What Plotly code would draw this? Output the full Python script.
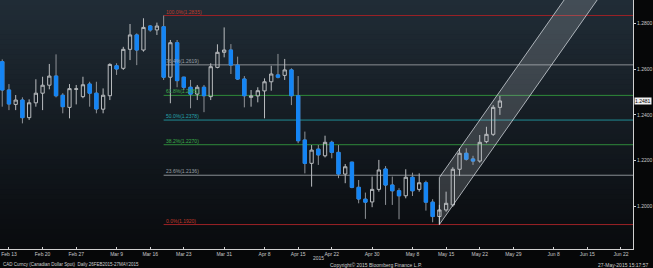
import plotly.graph_objects as go
import pandas as pd
import numpy as np

# ---------------- data ----------------
first_day = "2015-02-12"
last_day = "2015-05-27"
dates = pd.bdate_range(first_day, last_day)

open_ = [1.2633,1.2509,1.2446,1.2465,1.2388,1.2453,1.2495,1.2530,1.2570,1.2486,
         1.2433,1.2512,1.2480,1.2535,1.2495,1.2425,1.2484,1.2615,1.2604,1.2687,
         1.2750,1.2684,1.2789,1.2772,1.2786,1.2565,1.2716,1.2565,1.2521,1.2491,
         1.2521,1.2480,1.2608,1.2674,1.2684,1.2618,1.2557,1.2477,1.2483,1.2505,
         1.2545,1.2575,1.2573,1.2597,1.2484,1.2290,1.2188,1.2250,1.2221,1.2280,
         1.2236,1.2141,1.2193,1.2083,1.2031,1.2019,1.2074,1.2163,1.2093,1.2068,
         1.2046,1.2127,1.2074,1.2103,1.2018,1.1955,1.1984,1.2006,1.2162,1.2232,
         1.2207,1.2198,1.2283,1.2315,1.2433]
close = [1.2509,1.2448,1.2465,1.2388,1.2453,1.2495,1.2530,1.2570,1.2484,1.2436,
         1.2515,1.2514,1.2532,1.2495,1.2426,1.2486,1.2621,1.2601,1.2687,1.2750,
         1.2684,1.2783,1.2772,1.2789,1.2565,1.2716,1.2550,1.2521,1.2491,1.2521,
         1.2484,1.2611,1.2674,1.2684,1.2618,1.2557,1.2484,1.2483,1.2506,1.2545,
         1.2579,1.2565,1.2597,1.2484,1.2287,1.2188,1.2246,1.2225,1.2280,1.2236,
         1.2141,1.2173,1.2083,1.2032,1.2018,1.2074,1.2159,1.2093,1.2068,1.2046,
         1.2127,1.2068,1.2103,1.2018,1.1955,1.1984,1.2013,1.2162,1.2232,1.2206,
         1.2198,1.2280,1.2315,1.2433,1.2461]
high = [1.2643,1.2535,1.2487,1.2477,1.2468,1.2556,1.2567,1.2623,1.2665,1.2495,
        1.2535,1.2531,1.2567,1.2545,1.2545,1.2516,1.2626,1.2626,1.2698,1.2798,
        1.2757,1.2823,1.2793,1.2804,1.2835,1.2728,1.2728,1.2567,1.2553,1.2531,
        1.2531,1.2626,1.2709,1.2783,1.2710,1.2655,1.2570,1.2509,1.2521,1.2560,
        1.2615,1.2667,1.2645,1.2604,1.2570,1.2327,1.2268,1.2268,1.2309,1.2287,
        1.2268,1.2185,1.2195,1.2115,1.2060,1.2130,1.2203,1.2176,1.2130,1.2079,
        1.2162,1.2147,1.2144,1.2112,1.2031,1.2006,1.2064,1.2171,1.2254,1.2254,
        1.2221,1.2312,1.2348,1.2443,1.2483]
low = [1.2436,1.2421,1.2421,1.2363,1.2378,1.2436,1.2421,1.2512,1.2477,1.2407,
       1.2385,1.2446,1.2473,1.2436,1.2407,1.2407,1.2465,1.2575,1.2597,1.2640,
       1.2618,1.2677,1.2764,1.2750,1.2553,1.2451,1.2521,1.2509,1.2429,1.2465,
       1.2412,1.2465,1.2604,1.2652,1.2579,1.2553,1.2433,1.2436,1.2455,1.2385,
       1.2506,1.2560,1.2553,1.2443,1.2276,1.2144,1.2086,1.2181,1.2214,1.2210,
       1.2123,1.2101,1.2079,1.2013,1.1945,1.1996,1.2064,1.2006,1.2006,1.1943,
       1.2035,1.2045,1.2064,1.1981,1.1930,1.1920,1.1976,1.1998,1.2133,1.2200,
       1.2181,1.2191,1.2276,1.2308,1.2400]

# Fibonacci retracement (from Mar 18 high to May 14 low)
fib_start = "2015-03-18"
fib_high = 1.2835
fib_low = 1.1920
fib_ratios = [1.0, 0.764, 0.618, 0.5, 0.382, 0.236, 0.0]
fib_colors = ["#9b2226", "#8a8f94", "#2f8a3a", "#1f8c95", "#2f8a3a", "#8a8f94", "#9b2226"]
fib_text_colors = ["#c0392b", "#9aa0a6", "#3cae4a", "#25a3ad", "#3cae4a", "#9aa0a6", "#c0392b"]

# Trend channel
channel_start = "2015-05-14"
channel_end = "2015-06-17"
channel_low = 1.1920
channel_width = 0.0206
channel_slope = 0.00419  # per trading day

# Axis
x_range = ["2015-02-11 16:00", "2015-06-23 19:00"]
y_range = [1.1813, 1.2903]
x_tick_dates = ["2015-02-13", "2015-02-20", "2015-02-27", "2015-03-09", "2015-03-16",
                "2015-03-23", "2015-03-31", "2015-04-08", "2015-04-15", "2015-04-22",
                "2015-04-30", "2015-05-08", "2015-05-15", "2015-05-22", "2015-05-29",
                "2015-06-08", "2015-06-15", "2015-06-22"]
x_tick_text = ["Feb 13", "Feb 20", "Feb 27", "Mar 9", "Mar 16", "Mar 23", "Mar 31",
               "Apr 8", "Apr 15", "Apr 22", "Apr 30", "May 8", "May 15", "May 22",
               "May 29", "Jun 8", "Jun 15", "Jun 22"]
y_tick_vals = [1.20, 1.22, 1.24, 1.26, 1.28]
y_tick_text = ["1.2000", "1.2200", "1.2400", "1.2600", "1.2800"]
last_price_label = "1.2481"

FONT = "Liberation Sans, Arial, sans-serif"

fig = go.Figure()

# channel
n_days = int(np.busday_count(channel_start, channel_end))
ch_x = [channel_start, channel_end, channel_end, channel_start, channel_start]
ch_y = [channel_low,
        channel_low + channel_slope * n_days,
        channel_low + channel_width + channel_slope * n_days,
        channel_low + channel_width,
        channel_low]
fig.add_trace(go.Scatter(x=ch_x, y=ch_y, mode="lines", fill="toself",
                         fillcolor="rgba(190,195,200,0.22)",
                         line=dict(color="rgba(215,220,225,0.75)", width=1),
                         hoverinfo="skip", showlegend=False))

# all candles: gray wicks / hollow outlines
fig.add_trace(go.Candlestick(
    x=dates, open=open_, high=high, low=low, close=close,
    increasing=dict(line=dict(color="#b9bcbf", width=1), fillcolor="rgba(0,0,0,0)"),
    decreasing=dict(line=dict(color="#8f9398", width=1), fillcolor="rgba(0,0,0,0)"),
    whiskerwidth=0, showlegend=False, hoverinfo="skip"))

# blue bodies for down days
dn = [i for i in range(len(dates)) if close[i] < open_[i]]
fig.add_trace(go.Candlestick(
    x=[dates[i] for i in dn],
    open=[open_[i] for i in dn], close=[close[i] for i in dn],
    high=[open_[i] for i in dn], low=[close[i] for i in dn],
    increasing=dict(line=dict(color="#1485f5", width=1), fillcolor="#1485f5"),
    decreasing=dict(line=dict(color="#1485f5", width=1), fillcolor="#1485f5"),
    whiskerwidth=0, showlegend=False, hoverinfo="skip"))

shapes = []
# background gradient
top_rgb = np.array([33, 45, 55])
bot_rgb = np.array([9, 11, 14])
n_strips = 50
for k in range(n_strips):
    t = k / n_strips
    c = (bot_rgb + (top_rgb - bot_rgb) * (t + 0.5 / n_strips)).astype(int)
    shapes.append(dict(type="rect", xref="paper", yref="paper",
                       x0=0, x1=1, y0=t, y1=t + 1.0 / n_strips + 0.002,
                       line=dict(width=0), fillcolor="rgb(%d,%d,%d)" % tuple(c),
                       layer="below"))

annotations = []
for r, lc, tc in zip(fib_ratios, fib_colors, fib_text_colors):
    lvl = fib_low + r * (fib_high - fib_low)
    shapes.append(dict(type="line", xref="x", yref="y", x0=fib_start, x1=x_range[1],
                       y0=lvl, y1=lvl, line=dict(color=lc, width=1), layer="below"))
    annotations.append(dict(x=fib_start, y=lvl, xref="x", yref="y",
                            text="%.1f%%(%.4f)" % (r * 100, lvl), showarrow=False,
                            xanchor="left", yanchor="bottom", yshift=-1,
                            font=dict(family=FONT, size=5, color=tc)))

# last price box
annotations.append(dict(x=1, y=close[-1], xref="paper", yref="y", text=last_price_label,
                        showarrow=False, xanchor="left", yanchor="middle", xshift=1,
                        bgcolor="#f0f0f0", borderpad=0,
                        font=dict(family=FONT, size=5, color="#000000")))
# year label
annotations.append(dict(x="2015-04-20", y=-0.036, xref="x", yref="paper", text="2015",
                        showarrow=False, xanchor="center", yanchor="middle",
                        font=dict(family=FONT, size=5, color="#c8c8c8")))
# footer
annotations.append(dict(x=0.0, y=-0.064, xref="paper", yref="paper",
                        text="CAD Curncy (Canadian Dollar Spot)  Daily 26FEB2015-27MAY2015",
                        showarrow=False, xanchor="left", yanchor="middle", xshift=1,
                        font=dict(family=FONT, size=4.5, color="#d0d0d0")))
annotations.append(dict(x="2015-04-21 12:00", y=-0.064, xref="x", yref="paper",
                        text="Copyright\u00a9 2015 Bloomberg Finance L.P.",
                        showarrow=False, xanchor="left", yanchor="middle",
                        font=dict(family=FONT, size=5, color="#d0d0d0")))
annotations.append(dict(x=1.0, y=-0.064, xref="paper", yref="paper",
                        text="27-May-2015 15:17:57",
                        showarrow=False, xanchor="right", yanchor="middle", xshift=18,
                        font=dict(family=FONT, size=5, color="#d0d0d0")))

fig.update_layout(
    width=653, height=268,
    margin=dict(l=0, r=18, t=0, b=19),
    paper_bgcolor="#060708", plot_bgcolor="#121820",
    showlegend=False, boxmode="overlay",
    shapes=shapes, annotations=annotations,
    font=dict(family=FONT, size=5, color="#c8c8c8"),
    xaxis=dict(type="date", range=x_range, rangeslider=dict(visible=False),
               rangebreaks=[dict(bounds=["sat", "mon"])],
               tickvals=x_tick_dates, ticktext=x_tick_text,
               tickfont=dict(family=FONT, size=5, color="#c8c8c8"),
               showgrid=False, zeroline=False, showline=True, linecolor="#d0d0d0",
               linewidth=1, ticks="inside", ticklen=2, tickcolor="#d0d0d0"),
    yaxis=dict(range=y_range, side="right", tickvals=y_tick_vals, ticktext=y_tick_text,
               tickfont=dict(family=FONT, size=5, color="#c8c8c8"),
               showgrid=False, zeroline=False, showline=True, linecolor="#d0d0d0",
               linewidth=1, ticks="outside", ticklen=2, tickcolor="#d0d0d0"),
)

fig.write_html("out.html")
